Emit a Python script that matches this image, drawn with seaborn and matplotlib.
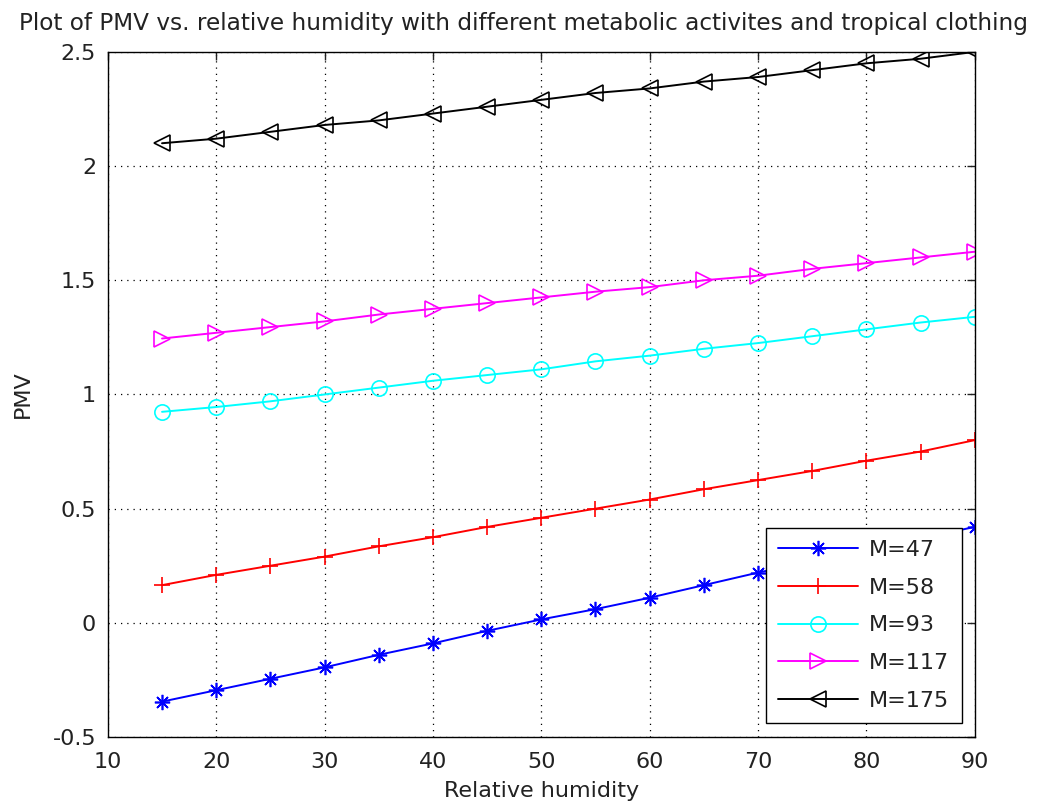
import numpy as np
import pandas as pd
import matplotlib
matplotlib.use("Agg")
import matplotlib.pyplot as plt
import seaborn as sns

rh = [15, 20, 25, 30, 35, 40, 45, 50, 55, 60, 65, 70, 75, 80, 85, 90]
pmv_m47 = [-0.345, -0.295, -0.245, -0.195, -0.14, -0.09, -0.035, 0.015, 0.06, 0.11, 0.165, 0.22, 0.27, 0.32, 0.37, 0.42]
pmv_m58 = [0.165, 0.21, 0.25, 0.29, 0.335, 0.375, 0.42, 0.46, 0.50, 0.54, 0.585, 0.625, 0.665, 0.71, 0.75, 0.80]
pmv_m93 = [0.924, 0.945, 0.97, 1.0, 1.03, 1.06, 1.085, 1.11, 1.145, 1.17, 1.20, 1.225, 1.255, 1.285, 1.315, 1.34]
pmv_m117 = [1.245, 1.27, 1.295, 1.32, 1.35, 1.375, 1.40, 1.425, 1.45, 1.47, 1.50, 1.52, 1.55, 1.575, 1.60, 1.625]
pmv_m175 = [2.10, 2.12, 2.15, 2.18, 2.20, 2.23, 2.26, 2.29, 2.32, 2.34, 2.37, 2.39, 2.42, 2.45, 2.47, 2.50]

labels = ["M=47", "M=58", "M=93", "M=117", "M=175"]
series = [pmv_m47, pmv_m58, pmv_m93, pmv_m117, pmv_m175]
colors = ["#0000ff", "#ff0000", "#00ffff", "#ff00ff", "#000000"]
markers = [(8, 2, 0), "+", "o", ">", "<"]

sns.set_style("white")
plt.rcParams["font.family"] = ["DejaVu Sans"]

fig = plt.figure(figsize=(10.37, 8.07), dpi=100)
ax = fig.add_axes([0.104, 0.0867, 0.836, 0.849])

for lab, vals, col, mk in zip(labels, series, colors, markers):
    df = pd.DataFrame({"Relative humidity": rh, "PMV": vals})
    sns.lineplot(data=df, x="Relative humidity", y="PMV", ax=ax, color=col,
                 marker=mk, markersize=11, mfc="none", mec=col, mew=1.2,
                 linewidth=1.4, label=lab)

ax.set_xlim(10, 90)
ax.set_ylim(-0.5, 2.5)
ax.set_xticks(np.arange(10, 91, 10))
ax.set_yticks(np.arange(-0.5, 2.51, 0.5))
ax.set_yticklabels(["-0.5", "0", "0.5", "1", "1.5", "2", "2.5"])
ax.grid(True, color="black", linestyle=(0, (1, 4)), linewidth=0.9)
ax.tick_params(direction="in", top=True, right=True, length=6, width=1,
               labelsize=16, colors="#222222")
ax.tick_params(axis="x", pad=10.5)
ax.tick_params(axis="y", pad=8.5)
for s in ax.spines.values():
    s.set_color("black")
    s.set_linewidth(1)
    s.set_visible(True)

ax.set_xlabel("Relative humidity", fontsize=16, labelpad=7, color="#222222")
ax.set_ylabel("PMV", fontsize=16, labelpad=14, color="#222222")
ax.set_title("Plot of PMV vs. relative humidity with different metabolic activites and tropical clothing",
             fontsize=16.7, pad=16, color="#222222", x=0.48)

leg = ax.legend(loc="lower right", bbox_to_anchor=(0.985, 0.0204), borderaxespad=0,
                fontsize=16, frameon=True, fancybox=False,
                framealpha=1, edgecolor="black", handlelength=3.6,
                labelspacing=0.8, borderpad=0.55, handletextpad=0.5)
leg.get_frame().set_linewidth(1)
for t in leg.get_texts():
    t.set_color("#222222")

fig.savefig("out.png", dpi=100)
